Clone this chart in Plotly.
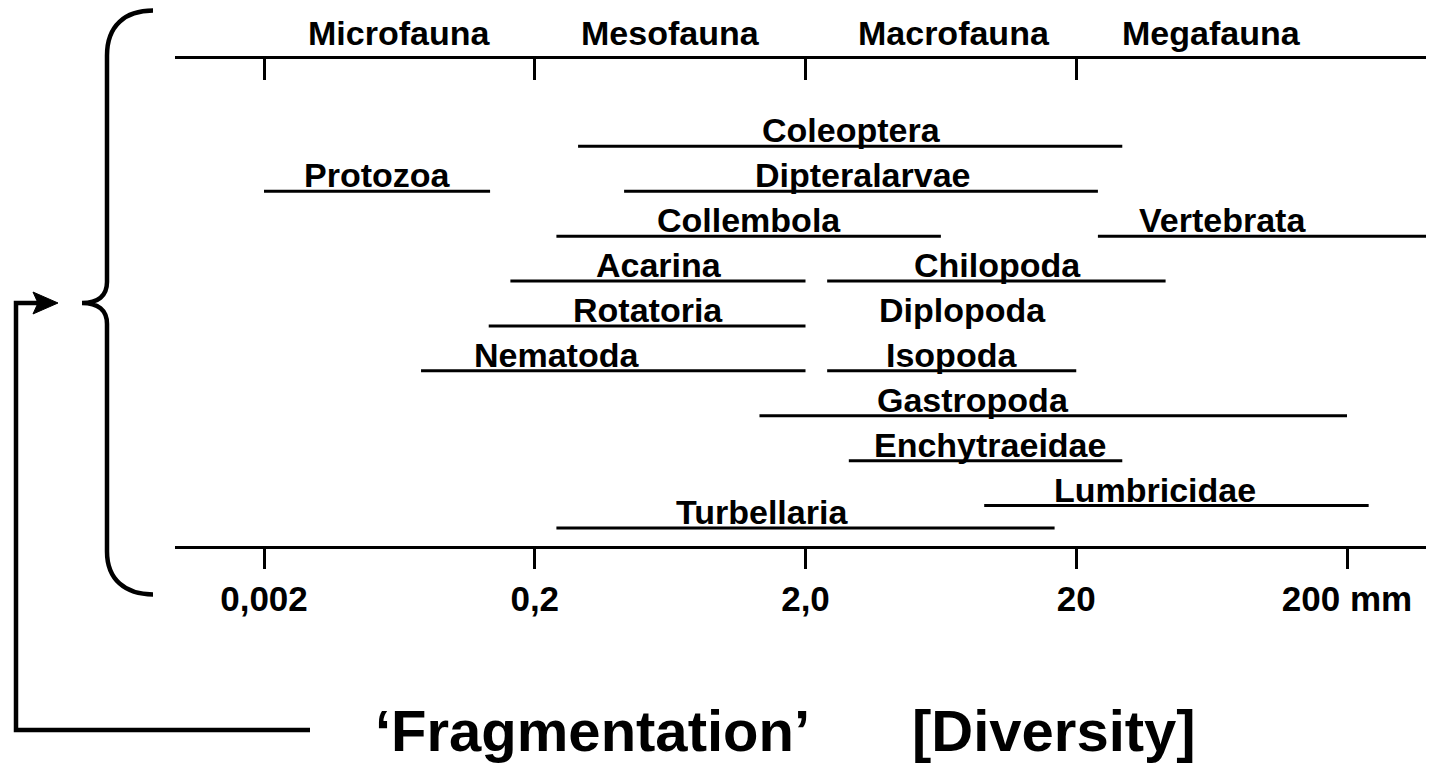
import plotly.graph_objects as go

# ---------------- data ----------------
# size-class positions on the (ordinal) axis: 0=0,002  1=0,2  2=2,0  3=20  4=200 mm
tick_pos = [0, 1, 2, 3, 4]
tick_text = ["0,002", "0,2", "2,0", "20", "200 mm"]
top_tick_pos = [0, 1, 2, 3]

classes = ["Microfauna", "Mesofauna", "Macrofauna", "Megafauna"]
class_pos = [0.50, 1.50, 2.55, 3.50]

taxa = ["Coleoptera", "Protozoa", "Dipteralarvae", "Collembola", "Vertebrata",
        "Acarina", "Chilopoda", "Rotatoria", "Diplopoda", "Nematoda", "Isopoda",
        "Gastropoda", "Enchytraeidae", "Lumbricidae", "Turbellaria"]
row = [0, 1, 1, 2, 2, 3, 3, 4, 4, 5, 5, 6, 7, 8, 8.5]
size_from = [1.16, 0.00, 1.33, 1.08, 3.08, 0.91, 2.08, 0.83, None, 0.58, 2.08,
             1.83, 2.16, 2.66, 1.08]
size_to = [3.17, 0.835, 3.08, 2.50, 4.35, 2.00, 3.33, 2.00, None, 2.00, 3.00,
           4.00, 3.17, 4.08, 2.92]
label_pos = [2.17, 0.42, 2.21, 1.79, 3.54, 1.46, 2.71, 1.42, 2.58, 1.08, 2.54,
             2.62, 2.68, 3.29, 1.84]

title_left = "\u2018Fragmentation\u2019"
title_right = "[Diversity]"

# ---------------- layout geometry (reference-page pixels) ----------------
PAGE_W, PAGE_H = 1434, 766
OFF = 8                          # default body margin of the html page
W, H = PAGE_W - OFF, PAGE_H - OFF
PX0, PXU = 264, 270.75           # page pixel of position 0, pixels per unit
ROW0, ROWU = 146, 45             # page pixel of row 0, pixels per row
LEFT, TOP, BOTTOM = 175, 58.5, 546.5   # plot area edges on the page

L = LEFT - OFF
T = TOP - OFF
B = H - (BOTTOM - OFF)

x_range = [(LEFT - PX0) / PXU, (PAGE_W - PX0) / PXU]
y_range = [(BOTTOM - ROW0) / ROWU, (TOP - ROW0) / ROWU]   # reversed

FONT = "Liberation Sans, Arial, sans-serif"

def px(xp, yp):
    """page pixel -> paper coordinates (for decorations outside the axes)"""
    return (xp - LEFT) / (PAGE_W - LEFT), (BOTTOM - yp) / (BOTTOM - TOP)

def path(cmds):
    out = []
    for c in cmds:
        if isinstance(c, str):
            out.append(c)
        else:
            x, y = px(*c)
            out.append(f"{x:.5f},{y:.5f}")
    return " ".join(out)

fig = go.Figure()

# range lines
xs, ys = [], []
for a, b, r in zip(size_from, size_to, row):
    if a is None:
        continue
    xs += [a, b, None]
    ys += [r, r, None]
fig.add_trace(go.Scatter(x=xs, y=ys, mode="lines",
                         line=dict(color="black", width=3),
                         hoverinfo="skip", showlegend=False))

# dummy trace on top axis so it renders
fig.add_trace(go.Scatter(x=[x_range[0]], y=[y_range[0]], xaxis="x2",
                         mode="markers", marker=dict(opacity=0),
                         hoverinfo="skip", showlegend=False))

# taxon labels
for name, lx, r in zip(taxa, label_pos, row):
    fig.add_annotation(x=lx, y=r, xref="x", yref="y", text=name,
                       showarrow=False, xanchor="center", yanchor="bottom",
                       yshift=-5,
                       font=dict(family=FONT, size=34, color="black", weight="bold"))

# size-class labels
for name, cx in zip(classes, class_pos):
    fig.add_annotation(x=cx, y=px(0, 32)[1], xref="x", yref="paper", text=name,
                       showarrow=False, xanchor="center", yanchor="middle",
                       font=dict(family=FONT, size=34, color="black", weight="bold"))

# bottom title
for txt, lx in [(title_left, 373), (title_right, 910)]:
    xp, yp = px(lx, 731)
    fig.add_annotation(x=xp, y=yp, xref="paper", yref="paper", text=txt,
                       showarrow=False, xanchor="left", yanchor="middle",
                       font=dict(family=FONT, size=58, color="black", weight="bold"))

# brace
brace = path(["M", (153, 10), "C", (125, 10), (107, 25), (107, 55),
              "L", (107, 282), "C", (107, 296), (98, 303), (82, 303),
              "C", (98, 303), (107, 310), (107, 324),
              "L", (107, 552), "C", (107, 580), (125, 595), (153, 595)])
fig.add_shape(type="path", path=brace, xref="paper", yref="paper",
              line=dict(color="black", width=4.5))

# connector arrow
conn = path(["M", (310, 731), "L", (16, 731), "L", (16, 303), "L", (40, 303)])
fig.add_shape(type="path", path=conn, xref="paper", yref="paper",
              line=dict(color="black", width=4.5))
head = path(["M", (33, 292), "L", (58, 303), "L", (33, 314), "L", (38, 303), "Z"])
fig.add_shape(type="path", path=head, xref="paper", yref="paper",
              line=dict(color="black", width=1), fillcolor="black")

fig.update_layout(
    width=W, height=H,
    margin=dict(l=L, r=0, t=T, b=B, pad=0),
    paper_bgcolor="white", plot_bgcolor="white",
    showlegend=False,
    xaxis=dict(range=x_range, showgrid=False, zeroline=False,
               showline=True, linecolor="black", linewidth=3,
               ticks="outside", ticklen=20, tickwidth=2.5, tickcolor="black",
               tickmode="array", tickvals=tick_pos, ticktext=tick_text,
               ticklabelstandoff=0,
               tickfont=dict(family=FONT, size=35, color="black", weight="bold")),
    xaxis2=dict(range=x_range, overlaying="x", side="top", showgrid=False,
                zeroline=False, showline=True, linecolor="black", linewidth=3,
                ticks="inside", ticklen=21, tickwidth=2.5, tickcolor="black",
                tickmode="array", tickvals=top_tick_pos, showticklabels=False),
    yaxis=dict(range=y_range, visible=False, showgrid=False, zeroline=False),
)

fig.write_html("out.html")
